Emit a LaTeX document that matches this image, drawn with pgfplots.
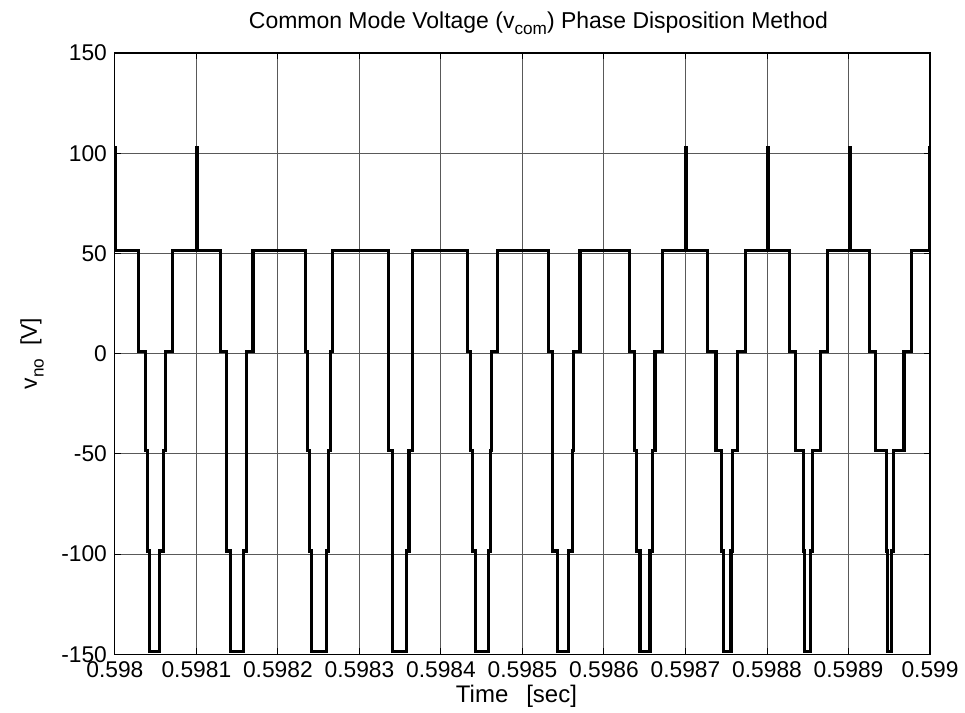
\documentclass[border=0pt]{standalone}
\usepackage{fontspec}
\setmainfont{Liberation Sans}
\usepackage{pgfplots}
\pgfplotsset{compat=1.18}
\newcommand\sub[1]{\raisebox{-0.55ex}{\fontsize{8.6bp}{9bp}\selectfont #1}}
\begin{document}
\fontsize{11.4bp}{13bp}\selectfont
\begin{tikzpicture}
\path[use as bounding box] (-57.5bp,-29bp) rectangle (425.5bp,327.5bp);
\begin{axis}[
  at={(0,0)}, anchor=south west,
  scale only axis, width=408bp, height=301bp,
  xmin=0, xmax=1000, ymin=-150, ymax=150,
  xtick={0,100,200,300,400,500,600,700,800,900,1000},
  xticklabels={0.598,0.5981,0.5982,0.5983,0.5984,0.5985,0.5986,0.5987,0.5988,0.5989,0.599},
  ytick={-150,-100,-50,0,50,100,150},
  yticklabels={-150,-100,-50,0,50,100,150},
  tick align=inside, major tick length=3bp,
  grid=major, major grid style={black!65, line width=0.5bp},
  axis line style={line width=0.6bp},
  tick style={black, line width=0.5bp},
  ticklabel style={font=\fontsize{11.4bp}{13bp}\selectfont},
  xticklabel style={yshift=0.5bp},
  title={Common Mode Voltage (v\sub{com}) Phase Disposition Method},
  title style={at={(axis description cs:0.5,1.0216)}, anchor=base, xshift=8bp, font=\fontsize{11.5bp}{13bp}\selectfont},
  xlabel={Time\hspace{0.75em}[sec]},
  xlabel style={at={(axis description cs:0.5,-0.0797)}, anchor=base, xshift=-3bp, font=\fontsize{12bp}{13bp}\selectfont},
  ylabel={v\sub{no}\ \ [V]},
  ylabel style={at={(axis description cs:-0.0956,0.5)}, anchor=base, font=\fontsize{11.4bp}{13bp}\selectfont},
]
\addplot[const plot, black, line width=1.6bp, line join=miter] coordinates {
(0,51.5) (0.2,103) (1.2,51.5)
(28.55,1) (37.6,-48.5) (40.1,-98.5) (42.9,-148.5) (55.2,-98.5) (59.2,-48.5) (62.1,1) (70.7,51.5)
(100.4,103) (101.4,51.5)
(129.5,1) (136.9,-98.5) (141.8,-148.5) (158.1,-98.5) (161.4,1) (169.5,51.5)
(233.7,1) (236.2,-48.5) (239.0,-98.5) (241.1,-148.5) (259.4,-98.5) (262.3,-48.5) (264.7,1) (266.8,51.5)
(335.8,-48.5) (340.3,-148.5) (358.2,-98.5) (360.7,-48.5) (364.8,51.5)
(432.2,1) (436.3,-48.5) (439.1,-98.5) (442.0,-148.5) (458.3,-98.5) (460.8,-48.5) (461.6,1) (469.7,51.5)
(531.9,1) (537.1,-98.5) (542.5,-148.5) (556.7,-98.5) (560.9,-48.5) (562.9,1) (570.7,51.5)
(631.1,1) (637.3,-48.5) (640.1,-98.5) (644.2,-148.5) (656.5,-98.5) (659.7,-48.5) (662.6,1) (671.9,51.5)
(700.0,103) (701.0,51.5)
(727.1,1) (737.4,-48.5) (743.9,-98.5) (746.9,-148.5) (755.8,-98.5) (757.7,-48.5) (763.9,1) (773.3,51.5)
(800.2,103) (801.2,51.5)
(827.2,1) (835.4,-48.5) (844.4,-98.5) (845.6,-148.5) (853.8,-98.5) (855.8,-48.5) (866.1,1) (874.1,51.5)
(901.0,103) (902.0,51.5)
(926.1,1) (933.5,-48.5) (947.0,-98.5) (948.2,-148.5) (953.1,-98.5) (955.3,-48.5) (968.1,1) (977.6,51.5)
(999.4,103) (1000,103)
};
\end{axis}
\end{tikzpicture}
\end{document}
